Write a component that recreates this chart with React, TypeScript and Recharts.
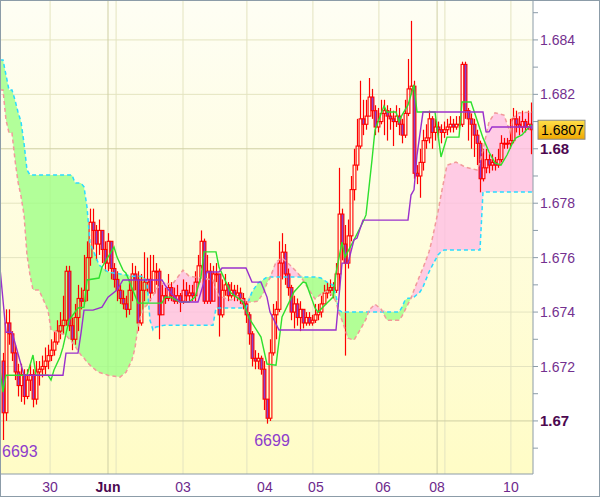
import React from "react";
import {
  ComposedChart,
  XAxis,
  YAxis,
  Bar,
  Line,
  Area,
  CartesianGrid,
  ReferenceDot,
} from "recharts";

// quotes are kept as the last four digits (6722 -> 1.6722)
const firstOpen = 6722;

const closes = [
  6703, 6736, 6732, 6725, 6718, 6713, 6717, 6709, 6715, 6717,
  6708, 6718, 6719, 6720, 6722, 6724, 6726, 6729, 6733, 6735,
  6737, 6755, 6735, 6730, 6738, 6745, 6744, 6748, 6760, 6773,
  6770, 6765, 6770, 6763, 6758, 6766, 6756, 6752, 6748, 6745,
  6743, 6741, 6748, 6754, 6752, 6736, 6748, 6751, 6752, 6747,
  6755, 6755, 6739, 6746, 6745, 6749, 6746, 6744, 6746, 6744,
  6748, 6746, 6747, 6746, 6751, 6757, 6766, 6744, 6755, 6744,
  6754, 6754, 6739, 6748, 6750, 6746, 6748, 6746, 6747, 6745,
  6743, 6739, 6732, 6723, 6722, 6723, 6719, 6708, 6701, 6725,
  6739, 6741, 6758, 6762, 6754, 6749, 6740, 6743, 6738, 6741,
  6736, 6738, 6736, 6737, 6739, 6740, 6743, 6747, 6748, 6749,
  6748, 6754, 6776, 6765, 6758, 6768, 6785, 6794, 6801, 6811,
  6809, 6812, 6819, 6814, 6808, 6810, 6813, 6814, 6812, 6811,
  6810, 6812, 6809, 6805, 6813, 6822, 6823, 6791, 6790, 6795,
  6803, 6804, 6811, 6806, 6808, 6807, 6806, 6807, 6808, 6809,
  6808, 6809, 6809, 6831, 6814, 6811, 6809, 6805, 6802, 6789,
  6793, 6796, 6794, 6795, 6794, 6796, 6802, 6802, 6802, 6803,
  6811, 6809, 6808, 6810, 6808, 6809, 6807,
];

const highs = [
  6725, 6741, 6741, 6733, 6728, 6721, 6721, 6719, 6719, 6721,
  6719, 6722, 6722, 6724, 6727, 6728, 6730, 6733, 6737, 6740,
  6746, 6757, 6757, 6738, 6743, 6750, 6749, 6761, 6766, 6778,
  6778, 6772, 6774, 6769, 6766, 6769, 6765, 6758, 6755, 6750,
  6748, 6746, 6752, 6758, 6757, 6755, 6754, 6762, 6760, 6761,
  6761, 6758, 6756, 6750, 6749, 6754, 6751, 6749, 6750, 6747,
  6752, 6751, 6750, 6750, 6755, 6761, 6770, 6767, 6761, 6758,
  6757, 6758, 6754, 6752, 6754, 6751, 6751, 6750, 6750, 6749,
  6747, 6744, 6740, 6733, 6726, 6725, 6724, 6722, 6708, 6730,
  6743, 6744, 6766, 6769, 6765, 6756, 6750, 6746, 6745, 6744,
  6741, 6740, 6740, 6739, 6743, 6743, 6746, 6750, 6751, 6752,
  6751, 6758, 6793, 6778, 6772, 6774, 6790, 6800, 6811, 6825,
  6818, 6818, 6826, 6822, 6816, 6815, 6818, 6818, 6816, 6815,
  6814, 6816, 6815, 6811, 6818, 6833, 6847, 6825, 6794, 6800,
  6807, 6809, 6814, 6812, 6811, 6810, 6809, 6810, 6811, 6812,
  6811, 6812, 6812, 6832, 6832, 6815, 6813, 6811, 6807, 6803,
  6800, 6800, 6798, 6798, 6797, 6800, 6805, 6804, 6804, 6811,
  6815, 6814, 6812, 6814, 6811, 6814, 6817,
];

const lows = [
  6693, 6700, 6728, 6722, 6715, 6709, 6707, 6706, 6708, 6711,
  6705, 6706, 6713, 6716, 6717, 6719, 6722, 6724, 6728, 6730,
  6732, 6735, 6733, 6726, 6728, 6733, 6741, 6743, 6744, 6757,
  6763, 6759, 6761, 6758, 6755, 6755, 6752, 6749, 6744, 6743,
  6741, 6738, 6739, 6744, 6748, 6733, 6735, 6744, 6747, 6744,
  6748, 6750, 6730, 6743, 6743, 6744, 6744, 6743, 6743, 6740,
  6743, 6744, 6744, 6744, 6744, 6750, 6756, 6743, 6743, 6743,
  6744, 6751, 6731, 6738, 6746, 6744, 6745, 6744, 6744, 6743,
  6741, 6736, 6728, 6720, 6719, 6719, 6717, 6704, 6699, 6700,
  6724, 6730, 6740, 6752, 6750, 6746, 6737, 6734, 6735, 6733,
  6734, 6735, 6735, 6735, 6736, 6737, 6738, 6743, 6745, 6746,
  6745, 6747, 6748, 6759, 6724, 6756, 6766, 6781, 6792, 6800,
  6805, 6807, 6812, 6811, 6805, 6806, 6809, 6805, 6803, 6807,
  6801, 6808, 6805, 6802, 6804, 6812, 6820, 6789, 6787, 6782,
  6792, 6800, 6802, 6800, 6803, 6804, 6802, 6804, 6805, 6806,
  6806, 6807, 6807, 6808, 6811, 6803, 6800, 6797, 6794, 6784,
  6788, 6791, 6791, 6792, 6792, 6793, 6795, 6800, 6800, 6800,
  6802, 6806, 6805, 6806, 6806, 6807, 6798,
];

// [bar index, value]
const tenkan = [
  [-1, 6718.7], [0, 6710.6], [1, 6716.8], [8, 6716.8], [10, 6724.2], [11, 6716.8],
  [15, 6716.8], [16, 6715], [17, 6718.7], [19, 6723.5], [20, 6727.1], [22, 6737],
  [25, 6741.5], [27, 6741.8], [28, 6751.8], [32, 6752.5], [33, 6756.5], [37, 6763.9],
  [38, 6760.2], [40, 6755.4], [41, 6754.3], [45, 6743.3], [53, 6743.3], [54, 6745.5],
  [56, 6745.5], [59, 6743.7], [62, 6743.7], [64, 6745.5], [66, 6752.9], [67, 6762.1],
  [71, 6762.1], [72, 6756.5], [76, 6747], [80, 6743.7], [82, 6737.8], [86, 6730.8],
  [88, 6720.9], [91, 6720.5], [93, 6738.2], [97, 6747.4], [100, 6751], [101, 6750.7],
  [104, 6741.5], [105, 6740], [108, 6743.3], [110, 6745.5], [111, 6754.3], [113, 6765.7],
  [114, 6760.2], [117, 6766.5], [120, 6773.1], [121, 6775.7], [123, 6795.9], [124, 6806.9],
  [127, 6815.7], [128, 6813.5], [131, 6813.5], [132, 6809.9], [133, 6812.4], [135, 6816.1],
  [137, 6823.5], [138, 6813.5], [144, 6813.5], [146, 6797], [148, 6804.3], [152, 6804.3],
  [153, 6817.2], [156, 6817.2], [158, 6810.6], [160, 6804], [162, 6798.8], [164, 6794.8],
  [166, 6794], [168, 6797.7], [170, 6802.5], [171, 6804], [173, 6805.1], [176, 6808.8],
];

const kijun = [
  [-1, 6756.2], [1, 6732.6], [3, 6732.6], [7, 6716.8], [20, 6716.8], [21, 6724.9],
  [25, 6724.9], [26, 6732.3], [27, 6740.7], [30, 6740.7], [33, 6741.8], [35, 6745.5],
  [38, 6748.1], [40, 6751.8], [53, 6751.8], [54, 6749.9], [56, 6747], [59, 6743.7],
  [65, 6743.7], [68, 6754.7], [72, 6754.7], [73, 6756.2], [81, 6756.2], [83, 6751],
  [86, 6751], [88, 6745.5], [89, 6740], [92, 6733.4], [111, 6733.4], [113, 6758],
  [115, 6758], [117, 6766.5], [118, 6767.2], [120, 6773.8], [135, 6773.8], [136, 6783],
  [137, 6784.9], [138, 6797.7], [140, 6813.5], [160, 6813.5], [161, 6806.2], [162, 6806.2],
  [163, 6808], [177, 6808],
];

// [bar index, senkou span A, senkou span B]
const cloud = [
  [-1, 6832.6, 6821.6], [0, 6832.6, 6821.6], [1, 6827.1, 6810.6], [2, 6821.6, 6805.8],
  [3, 6821.6, 6805.8], [4, 6817.9, 6795.9], [5, 6813.5, 6787.8], [6, 6809.9, 6782.6],
  [7, 6802.1, 6775.7], [8, 6792.2, 6761], [9, 6790.4, 6753.6], [10, 6790.4, 6748.1],
  [12, 6790.4, 6748.1], [15, 6790.4, 6740.7], [16, 6790.4, 6733.4], [21, 6790.4, 6731.5],
  [23, 6790.4, 6729], [24, 6787.4, 6727.5], [26, 6787.4, 6724.2], [27, 6786, 6723.1],
  [28, 6778.6, 6721.6], [29, 6765.4, 6720.5], [31, 6760.2, 6718.6], [32, 6757.3, 6717.9],
  [35, 6754.7, 6716.8], [39, 6754, 6716.1], [41, 6753.6, 6717.9], [43, 6753.2, 6722.4],
  [44, 6753.2, 6726.8], [45, 6753.2, 6734.5], [46, 6753.2, 6738.9], [47, 6752.9, 6741.5],
  [48, 6750.7, 6742.6], [49, 6737, 6744.4], [50, 6733.4, 6746], [51, 6734.5, 6748.5],
  [54, 6735.2, 6751], [56, 6735.2, 6749.9], [57, 6735.2, 6751], [60, 6735.2, 6755.4],
  [62, 6735.2, 6753.2], [66, 6735.2, 6752.5], [70, 6735.2, 6751.8], [71, 6741.5, 6748.1],
  [72, 6741.5, 6745.9], [76, 6741.5, 6744.4], [78, 6741.5, 6745.9], [81, 6741.5, 6743.7],
  [83, 6747.4, 6743.7], [85, 6750.7, 6744], [87, 6752.1, 6747.4], [88, 6752.9, 6750.7],
  [89, 6752.9, 6752.5], [91, 6752.9, 6758.4], [93, 6752.9, 6759.9], [95, 6752.9, 6758],
  [98, 6752.9, 6754.7], [100, 6752.9, 6751.8], [102, 6752.9, 6748.1], [104, 6752.9, 6744.8],
  [106, 6752.5, 6746.6], [108, 6751, 6747.7], [110, 6749.9, 6746], [111, 6746, 6743.7],
  [112, 6740.7, 6739.6], [113, 6740, 6737], [115, 6740, 6730.4], [117, 6740, 6729.7],
  [119, 6740, 6733.4], [121, 6740, 6737.4], [122, 6740, 6740.7], [124, 6740, 6742.9],
  [126, 6740, 6741.1], [128, 6740, 6737], [132, 6740, 6737], [133, 6741.8, 6738.5],
  [134, 6744.4, 6740.7], [135, 6745.1, 6742.9], [136, 6745.1, 6745.1], [137, 6745.5, 6748.1],
  [139, 6747.4, 6753.6], [140, 6749.2, 6756.2], [142, 6754.7, 6762.1], [143, 6756.9, 6766.5],
  [145, 6761, 6776.8], [146, 6762.1, 6783], [147, 6762.8, 6788.5], [148, 6762.8, 6794],
  [151, 6762.8, 6795.1], [154, 6762.8, 6793.3], [158, 6762.8, 6792.2], [159, 6762.8, 6795.1],
  [160, 6784.1, 6799.6], [162, 6784.1, 6809.9], [164, 6784.1, 6813.2], [167, 6784.1, 6812.4],
  [169, 6784.1, 6806.2], [170, 6784.1, 6811.3], [172, 6784.1, 6813.2], [177, 6784.1, 6813.5],
];

const xTicks = [15.7, 35, 60, 87.3, 104.3, 126.7, 144.7, 169.3];
const xLabels = ["30", "Jun", "03", "04", "05", "06", "08", "10"];
const vGridLight = [15.7, 37.7, 60, 81.3, 103.3, 125.3, 147.3, 169.3];
const vGridDark = [35, 144.7];

const yTicks = [
  1.669, 1.67, 1.671, 1.672, 1.673, 1.674, 1.675, 1.676, 1.677,
  1.678, 1.679, 1.68, 1.681, 1.682, 1.683, 1.684, 1.685,
];
const hGridLight = [1.672, 1.674, 1.676, 1.678, 1.682, 1.684];
const hGridDark = [1.67, 1.68];

const lowTags = [
  { i: 0, p: 6693 },
  { i: 88, p: 6699 },
];

const toPrice = (p: number) => 1 + p / 10000;
const lastPrice = toPrice(closes[closes.length - 1]);

const candles = closes.map((c, i) => {
  const o = i === 0 ? firstOpen : closes[i - 1];
  return {
    i,
    o: toPrice(o),
    c: toPrice(c),
    h: toPrice(Math.max(highs[i], o, c)),
    l: toPrice(Math.min(lows[i], o, c)),
  };
});
const tenkanRows = tenkan.map(([i, v]) => ({ i, v: toPrice(v) }));
const kijunRows = kijun.map(([i, v]) => ({ i, v: toPrice(v) }));
const cloudRows = cloud.map(([i, a, b]) => ({
  i,
  a: toPrice(a),
  b: toPrice(b),
  top: toPrice(Math.max(a, b)),
}));

const FONT = "Arial, 'Liberation Sans', sans-serif";

// eslint-disable-next-line @typescript-eslint/no-explicit-any
function Candle(props: any) {
  const { x, y, width, height, payload } = props;
  if (x == null || !payload) return null;
  const { o, c, h, l } = payload;
  const yTop = Math.min(y, y + height);
  const H = Math.abs(height);
  const cx = Math.round(x + width / 2) + 0.5;
  const span = h - l || 1e-9;
  const py = (v: number) => yTop + ((h - v) / span) * H;
  const top = py(Math.max(o, c));
  const bot = py(Math.min(o, c));
  const bear = c < o;
  return (
    <g>
      <line x1={cx} x2={cx} y1={yTop} y2={top} stroke="#ff0000" strokeWidth={1.2} />
      <line x1={cx} x2={cx} y1={bot} y2={yTop + H} stroke="#ff0000" strokeWidth={1.2} />
      <rect
        x={cx - 1.4}
        y={top}
        width={2.8}
        height={Math.max(bot - top, 0.8)}
        fill={bear ? "#8a40d0" : "none"}
        stroke="#ff0000"
        strokeWidth={1.1}
      />
    </g>
  );
}

// eslint-disable-next-line @typescript-eslint/no-explicit-any
function PriceTick({ x, y, payload }: any) {
  const v = payload.value as number;
  if (Math.abs(v - lastPrice) < 1e-7) {
    return (
      <g>
        <defs>
          <linearGradient id="tagGrad" x1="0" y1="0" x2="0" y2="1">
            <stop offset="0%" stopColor="#ffe04a" />
            <stop offset="100%" stopColor="#f0a800" />
          </linearGradient>
        </defs>
        <rect x={x - 2} y={y - 9.5} width={47} height={19} fill="url(#tagGrad)" stroke="#8a8a8a" />
        <text x={x + 1} y={y + 5} fontSize={14} fontFamily={FONT} fill="#000">
          {v.toFixed(4)}
        </text>
      </g>
    );
  }
  const k = Math.round(v * 1000);
  const major = k % 2 === 0;
  const bold = k % 10 === 0;
  return (
    <g>
      <line x1={x - 7} x2={x - 2} y1={y} y2={y} stroke="#8c9ca8" />
      {major && (
        <text
          x={x}
          y={y + 5}
          fontSize={bold ? 15 : 14}
          fontWeight={bold ? 700 : 400}
          fontFamily={FONT}
          fill={bold ? "#4c0850" : "#73308f"}
        >
          {bold ? (k / 1000).toFixed(2) : (k / 1000).toFixed(3)}
        </text>
      )}
    </g>
  );
}

// eslint-disable-next-line @typescript-eslint/no-explicit-any
function DayTick({ x, y, payload }: any) {
  const idx = xTicks.indexOf(payload.value);
  const label = xLabels[idx] ?? "";
  const bold = label === "Jun";
  return (
    <text
      x={x}
      y={y + 18}
      textAnchor="middle"
      fontSize={14}
      fontWeight={bold ? 700 : 400}
      fontFamily={FONT}
      fill={bold ? "#4c0850" : "#6e2a8c"}
    >
      {label}
    </text>
  );
}

// eslint-disable-next-line @typescript-eslint/no-explicit-any
function LowTag({ viewBox, value, first }: any) {
  const cx = viewBox.x + viewBox.width / 2;
  const cy = viewBox.y + viewBox.height / 2;
  return (
    <text
      x={first ? cx - 1 : cx + 5}
      y={cy + (first ? 17 : 22)}
      textAnchor={first ? "start" : "middle"}
      fontSize={16}
      fontFamily={FONT}
      fill="#8e3ccc"
    >
      {value}
    </text>
  );
}

export default function App() {
  return (
    <div
      style={{
        position: "absolute",
        left: 0,
        top: 0,
        width: 600,
        height: 497,
        background: "#ffffff",
      }}
    >
      <ComposedChart
        width={600}
        height={497}
        data={candles}
        margin={{ top: 1, right: 0, bottom: 0, left: 1 }}
      >
        <defs>
          <linearGradient id="bgGrad" x1="0" y1="0" x2="0" y2="1">
            <stop offset="0%" stopColor="#fefef4" />
            <stop offset="100%" stopColor="#fffcc6" />
          </linearGradient>
        </defs>

        <CartesianGrid
          fill="url(#bgGrad)"
          stroke="#e4e4c0"
          horizontalValues={hGridLight}
          verticalValues={vGridLight}
        />
        <CartesianGrid
          stroke="#cfcfa4"
          horizontalValues={hGridDark}
          verticalValues={vGridDark}
        />

        <XAxis
          type="number"
          dataKey="i"
          domain={[-0.667, 176.667]}
          allowDataOverflow
          ticks={xTicks}
          interval={0}
          tick={<DayTick />}
          tickLine={false}
          tickSize={0}
          tickMargin={0}
          height={23}
          axisLine={{ stroke: "#8c9ca8" }}
        />
        <YAxis
          orientation="right"
          type="number"
          domain={[1.66805, 1.68543]}
          allowDataOverflow
          ticks={[...yTicks, lastPrice]}
          interval={0}
          tick={<PriceTick />}
          tickLine={false}
          tickSize={5}
          tickMargin={2}
          width={67}
          axisLine={{ stroke: "#8c9ca8" }}
        />

        {/* kumo fills: green where span A is on top, pink where span B is */}
        <Area
          data={cloudRows}
          dataKey={(d: { b: number; top: number }) => [d.b, d.top]}
          type="linear"
          stroke="none"
          fill="#9cff84"
          fillOpacity={0.78}
          isAnimationActive={false}
        />
        <Area
          data={cloudRows}
          dataKey={(d: { a: number; top: number }) => [d.a, d.top]}
          type="linear"
          stroke="none"
          fill="#ffbde4"
          fillOpacity={0.78}
          isAnimationActive={false}
        />
        <Line
          data={cloudRows}
          dataKey="a"
          type="linear"
          stroke="#2adcff"
          strokeWidth={1.5}
          strokeDasharray="4 3"
          dot={false}
          isAnimationActive={false}
        />
        <Line
          data={cloudRows}
          dataKey="b"
          type="linear"
          stroke="#f29a9a"
          strokeWidth={1.5}
          strokeDasharray="4 3"
          dot={false}
          isAnimationActive={false}
        />

        <Bar
          dataKey={(d: { l: number; h: number }) => [d.l, d.h]}
          barSize={3}
          shape={<Candle />}
          isAnimationActive={false}
        />

        <Line
          data={tenkanRows}
          dataKey="v"
          type="linear"
          stroke="#2ee02e"
          strokeWidth={1.4}
          dot={false}
          isAnimationActive={false}
        />
        <Line
          data={kijunRows}
          dataKey="v"
          type="linear"
          stroke="#9a30cc"
          strokeWidth={1.4}
          dot={false}
          isAnimationActive={false}
        />

        {lowTags.map((t, k) => (
          <ReferenceDot
            key={t.p}
            x={t.i}
            y={toPrice(t.p)}
            r={1}
            fill="none"
            stroke="none"
            label={<LowTag value={String(t.p)} first={k === 0} />}
          />
        ))}
      </ComposedChart>
      <div
        style={{
          position: "absolute",
          left: 0,
          top: 0,
          width: 598,
          height: 495,
          border: "1px solid #8c9ca8",
          pointerEvents: "none",
        }}
      />
    </div>
  );
}
